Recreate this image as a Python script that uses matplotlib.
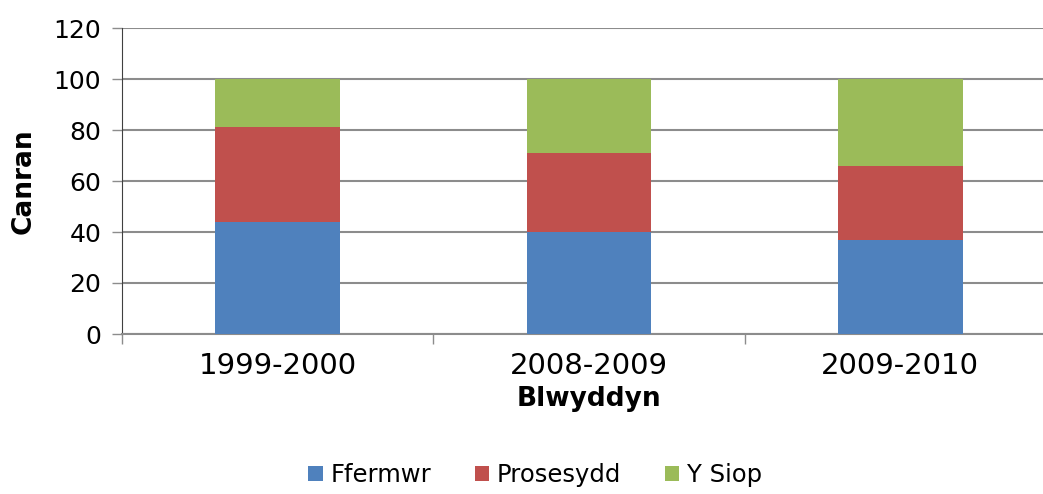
import matplotlib
matplotlib.use("Agg")
from matplotlib import pyplot as plt
import numpy as np

# data (percent)
years = ['1999-2000', '2008-2009', '2009-2010']
ffermwr = [44, 40, 37]
prosesydd = [37, 31, 29]
y_siop = [19, 29, 34]

plt.rcParams['font.family'] = ['DejaVu Sans']

fig = plt.figure(figsize=(10.43, 4.94), dpi=100)
ax = fig.add_axes([122 / 1043, 160 / 494, 934 / 1043, 306 / 494])

x_pos = np.arange(len(years))
w = 0.4
ax.bar(x_pos, ffermwr, w, color='#4F81BD', label='Ffermwr', zorder=3)
ax.bar(x_pos, prosesydd, w, bottom=ffermwr, color='#C0504D', label='Prosesydd', zorder=3)
bottom2 = [a + b for a, b in zip(ffermwr, prosesydd)]
ax.bar(x_pos, y_siop, w, bottom=bottom2, color='#9BBB59', label='Y Siop', zorder=3)

ax.set_xlim(-0.5, 2.5)
ax.set_ylim(0, 120)
ax.set_yticks(range(0, 121, 20))
ax.yaxis.grid(True, color='#8c8c8c', linewidth=1.5, zorder=0)

ax.set_xticks(x_pos)
ax.set_xticklabels(years, fontsize=21)
ax.set_xticks([-0.5, 0.5, 1.5, 2.5], minor=True)
ax.tick_params(axis='x', which='major', length=0, pad=13)
ax.tick_params(axis='x', which='minor', length=7, width=1, color='#8c8c8c')
ax.tick_params(axis='y', length=7, width=1, color='#8c8c8c', labelsize=18, pad=8)

for s in ['top', 'right']:
    ax.spines[s].set_visible(False)
ax.spines['left'].set_color('#404040')
ax.spines['bottom'].set_color('#8c8c8c')
ax.spines['bottom'].set_linewidth(1.5)

ax.set_ylabel('Canran', fontsize=19, fontweight='bold', labelpad=12)
ax.set_xlabel('Blwyddyn', fontsize=19, fontweight='bold', labelpad=4)

fig.legend(loc='lower center', bbox_to_anchor=(0.513, -0.03), ncol=3, frameon=False,
           fontsize=17.5, handlelength=0.6, handleheight=0.6, columnspacing=1.8,
           handletextpad=0.3)

fig.savefig('out.png', dpi=100)
